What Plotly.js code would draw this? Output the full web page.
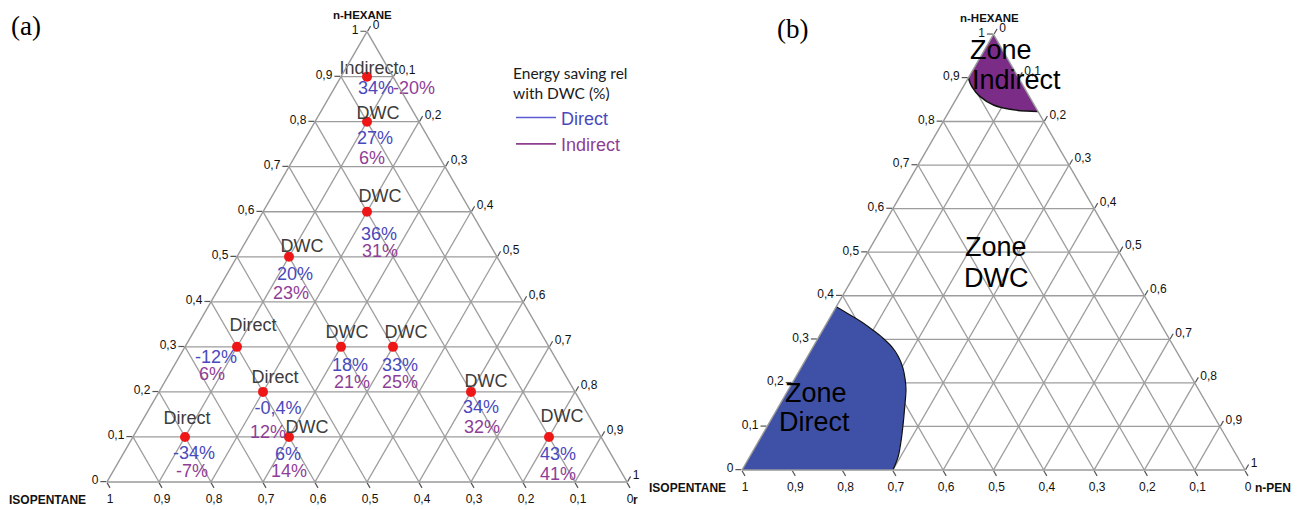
<!DOCTYPE html>
<html>
<head>
<meta charset="utf-8">
<script src="https://cdn.plot.ly/plotly-3.0.1.min.js"></script>
<style>
  html, body { margin: 0; padding: 0; background: #ffffff; }
  #chart { width: 1300px; height: 510px; }
</style>
</head>
<body>
<div id="chart"></div>
<script>
// ---- (a) simulated feeds: n-hexane and n-pentane mole fractions (isopentane = remainder)
const hexane         = [0.9, 0.8, 0.6, 0.5, 0.3, 0.3, 0.3, 0.2, 0.2, 0.1, 0.1, 0.1];
const pentane        = [0.05, 0.1, 0.2, 0.1, 0.1, 0.3, 0.4, 0.2, 0.6, 0.1, 0.3, 0.8];
const bestConfig     = ['Indirect', 'DWC', 'DWC', 'DWC', 'Direct', 'DWC', 'DWC', 'Direct', 'DWC', 'Direct', 'DWC', 'DWC'];
const savingDirect   = [34, 27, 36, 20, -12, 18, 33, -0.4, 34, -34, 6, 43];
const savingIndirect = [-20, 6, 31, 23, 6, 21, 25, 12, 32, -7, 14, 41];

// ---- (b) zone boundaries (n-hexane, n-pentane fractions along the curved border)
const directBorderHexane    = [0.375, 0.356, 0.337, 0.321, 0.302, 0.283, 0.260, 0.234, 0.207, 0.184, 0.145, 0.107, 0.069, 0.031, 0];
const directBorderPentane   = [0, 0.037, 0.073, 0.100, 0.130, 0.156, 0.181, 0.203, 0.221, 0.234, 0.251, 0.267, 0.282, 0.295, 0.3];
const indirectBorderHexane  = [0.9, 0.88, 0.857, 0.838, 0.828, 0.824, 0.823];
const indirectBorderPentane = [0, 0.017, 0.045, 0.081, 0.119, 0.154, 0.177];

// ---- page geometry
const PAGE_W = 1300, PAGE_H = 510;
const domA = { x: [107 / PAGE_W, 627 / PAGE_W], y: [0.0550, 0.9380] };
const domB = { x: [742 / PAGE_W, 1245 / PAGE_W], y: [0.0784, 0.9326] };

// label offsets in pixels [dx, dy] relative to each feed marker
const labelShift    = [[2,-7],[11,-7],[13,-14],[13,-9],[16,-20],[6,-13],[13,-13],[12,-13],[15,-9],[2,-17],[18,-8],[13,-19]];
const directShift   = [[9,13],[8,18],[12,24],[6,19],[-21,12],[9,20],[7,20],[15,18],[10,17],[9,18],[-1,19],[9,19]];
const indirectShift = [[26,13],[5,38],[13,41],[2,38],[-25,29],[11,37],[7,37],[5,42],[11,37],[7,36],[0,36],[9,39]];
// the first indirect value sits beside its direct value, past the right edge
const indirectAnchor = ['middle right'].concat(new Array(11).fill('middle center'));

const BLUE = '#4949bd', PURPLE = '#8e3e96', LABEL = '#3c3c3c';

function pct(v) { return String(v).replace('.', ',') + '%'; }

// move a ternary point by a pixel offset inside a triangle of side W
function shiftPoint(a, c, dx, dy, W) {
  const H = W * Math.sqrt(3) / 2;
  const a2 = a - dy / H;
  const c2 = c + dx / W - (a2 - a) / 2;
  return [a2, c2];
}
function shiftedArrays(shifts, W) {
  const A = [], C = [];
  hexane.forEach((a, i) => {
    const p = shiftPoint(a, pentane[i], shifts[i][0], shifts[i][1], W);
    A.push(p[0]); C.push(p[1]);
  });
  return { a: A, c: C };
}

const WA = (domA.x[1] - domA.x[0]) * PAGE_W;

function axis() {
  return {
    min: 0, tickmode: 'linear', tick0: 0, dtick: 0.1,
    ticks: 'outside', ticklen: 6, tickwidth: 1.2, tickcolor: '#555555',
    showline: true, linecolor: '#999999', linewidth: 1.4,
    showgrid: true, gridcolor: '#9d9d9d', gridwidth: 1.3,
    tickfont: { family: 'Liberation Sans, Arial, sans-serif', size: 12, color: '#111111' },
    title: { text: '' },
    layer: 'above traces'
  };
}

const lblPos = shiftedArrays(labelShift, WA);
const dirPos = shiftedArrays(directShift, WA);
const indPos = shiftedArrays(indirectShift, WA);

const textFont = (color) => ({ family: 'Liberation Sans, Arial, sans-serif', size: 18, color: color });

const traces = [
  // feed markers
  { type: 'scatterternary', subplot: 'ternary', mode: 'markers', a: hexane, c: pentane,
    marker: { color: '#ee1717', size: 10 }, showlegend: false, hoverinfo: 'skip', cliponaxis: false },
  // best configuration
  { type: 'scatterternary', subplot: 'ternary', mode: 'text', a: lblPos.a, c: lblPos.c,
    text: bestConfig, textposition: 'middle center', textfont: textFont(LABEL),
    showlegend: false, hoverinfo: 'skip', cliponaxis: false },
  // saving of the direct sequence
  { type: 'scatterternary', subplot: 'ternary', mode: 'text', a: dirPos.a, c: dirPos.c,
    text: savingDirect.map(pct), textposition: 'middle center', textfont: textFont(BLUE),
    showlegend: false, hoverinfo: 'skip', cliponaxis: false },
  // saving of the indirect sequence
  { type: 'scatterternary', subplot: 'ternary', mode: 'text', a: indPos.a, c: indPos.c,
    text: savingIndirect.map(pct), textposition: indirectAnchor, textfont: textFont(PURPLE),
    showlegend: false, hoverinfo: 'skip', cliponaxis: false },
  // legend entries
  { type: 'scatterternary', subplot: 'ternary', mode: 'lines', a: [null], c: [null],
    name: '<span style="color:' + BLUE + '">Direct</span>', line: { color: '#5a5ad2', width: 1.6 }, hoverinfo: 'skip' },
  { type: 'scatterternary', subplot: 'ternary', mode: 'lines', a: [null], c: [null],
    name: '<span style="color:' + PURPLE + '">Indirect</span>', line: { color: '#8e3e8e', width: 1.6 }, hoverinfo: 'skip' },

  // (b) zone Direct
  { type: 'scatterternary', subplot: 'ternary2', mode: 'lines', fill: 'toself',
    a: [0].concat(directBorderHexane), c: [0].concat(directBorderPentane),
    fillcolor: '#3f51a6', line: { width: 0, color: 'rgba(0,0,0,0)' }, showlegend: false, hoverinfo: 'skip' },
  { type: 'scatterternary', subplot: 'ternary2', mode: 'lines',
    a: directBorderHexane, c: directBorderPentane,
    line: { color: '#111111', width: 1.2, shape: 'spline' }, showlegend: false, hoverinfo: 'skip' },
  // (b) zone Indirect
  { type: 'scatterternary', subplot: 'ternary2', mode: 'lines', fill: 'toself',
    a: [1].concat(indirectBorderHexane), c: [0].concat(indirectBorderPentane),
    fillcolor: '#7a2c86', line: { width: 0, color: 'rgba(0,0,0,0)' }, showlegend: false, hoverinfo: 'skip' },
  { type: 'scatterternary', subplot: 'ternary2', mode: 'lines',
    a: indirectBorderHexane, c: indirectBorderPentane,
    line: { color: '#111111', width: 1.5, shape: 'spline' }, showlegend: false, hoverinfo: 'skip' }
];

function px(x) { return x / PAGE_W; }
function py(y) { return 1 - y / PAGE_H; }
function note(text, x, y, opts) {
  return Object.assign({
    text: text, x: px(x), y: py(y), xref: 'paper', yref: 'paper',
    showarrow: false, xanchor: 'center', yanchor: 'middle',
    font: { family: 'Liberation Sans, Arial, sans-serif', size: 12, color: '#111111' }
  }, opts || {});
}
const bold = { family: 'Liberation Sans, Arial, sans-serif', size: 12, color: '#111111' };
const zoneFont = { family: 'Liberation Sans, Arial, sans-serif', size: 27, color: '#000000' };
const panelFont = { family: 'Liberation Serif, Times New Roman, serif', size: 27, color: '#000000' };

const annotations = [
  note('(a)', 26, 26, { font: panelFont }),
  note('(b)', 792, 29, { font: panelFont }),
  // axis names, panel (a)
  note('<b>n-HEXANE</b>', 362, 15, { font: Object.assign({}, bold, { size: 11.5 }) }),
  note('<b>ISOPENTANE</b>', 47, 500, { font: bold }),
  note('<b>r</b>', 635, 500, { font: bold }),
  // axis names, panel (b)
  note('<b>n-HEXANE</b>', 989, 18, { font: Object.assign({}, bold, { size: 11.5 }) }),
  note('<b>ISOPENTANE</b>', 687, 488, { font: bold }),
  note('<b>n-PEN</b>', 1273, 488, { font: bold }),
  // zone names
  note('Zone', 1001, 50, { font: zoneFont }),
  note('Indirect', 1017, 80, { font: zoneFont }),
  note('Zone', 996, 247, { font: zoneFont }),
  note('DWC', 996, 278, { font: zoneFont }),
  note('Zone', 816, 393, { font: zoneFont }),
  note('Direct', 814, 422, { font: zoneFont })
];

const layout = {
  width: PAGE_W, height: PAGE_H,
  margin: { l: 0, r: 0, t: 0, b: 0 },
  paper_bgcolor: '#ffffff',
  separators: ', ',
  font: { family: 'Liberation Sans, Arial, sans-serif', color: '#111111' },
  ternary: { domain: domA, sum: 1, bgcolor: 'rgba(0,0,0,0)', aaxis: axis(), baxis: axis(), caxis: axis() },
  ternary2: { domain: domB, sum: 1, bgcolor: 'rgba(0,0,0,0)', aaxis: axis(), baxis: axis(), caxis: axis() },
  showlegend: true,
  legend: {
    x: px(511), y: py(59), xanchor: 'left', yanchor: 'top',
    bgcolor: 'rgba(0,0,0,0)', borderwidth: 0,
    title: { text: 'Energy saving rel<br>with DWC (%)', side: 'top',
             font: { family: 'Lato, Open Sans, sans-serif', size: 15.5, color: '#1a1a1a' } },
    font: { family: 'Liberation Sans, Arial, sans-serif', size: 18, color: '#333' },
    itemwidth: 40, tracegroupgap: 0
  },
  annotations: annotations
};

Plotly.newPlot('chart', traces, layout, { displayModeBar: false, staticPlot: true });
</script>
</body>
</html>
